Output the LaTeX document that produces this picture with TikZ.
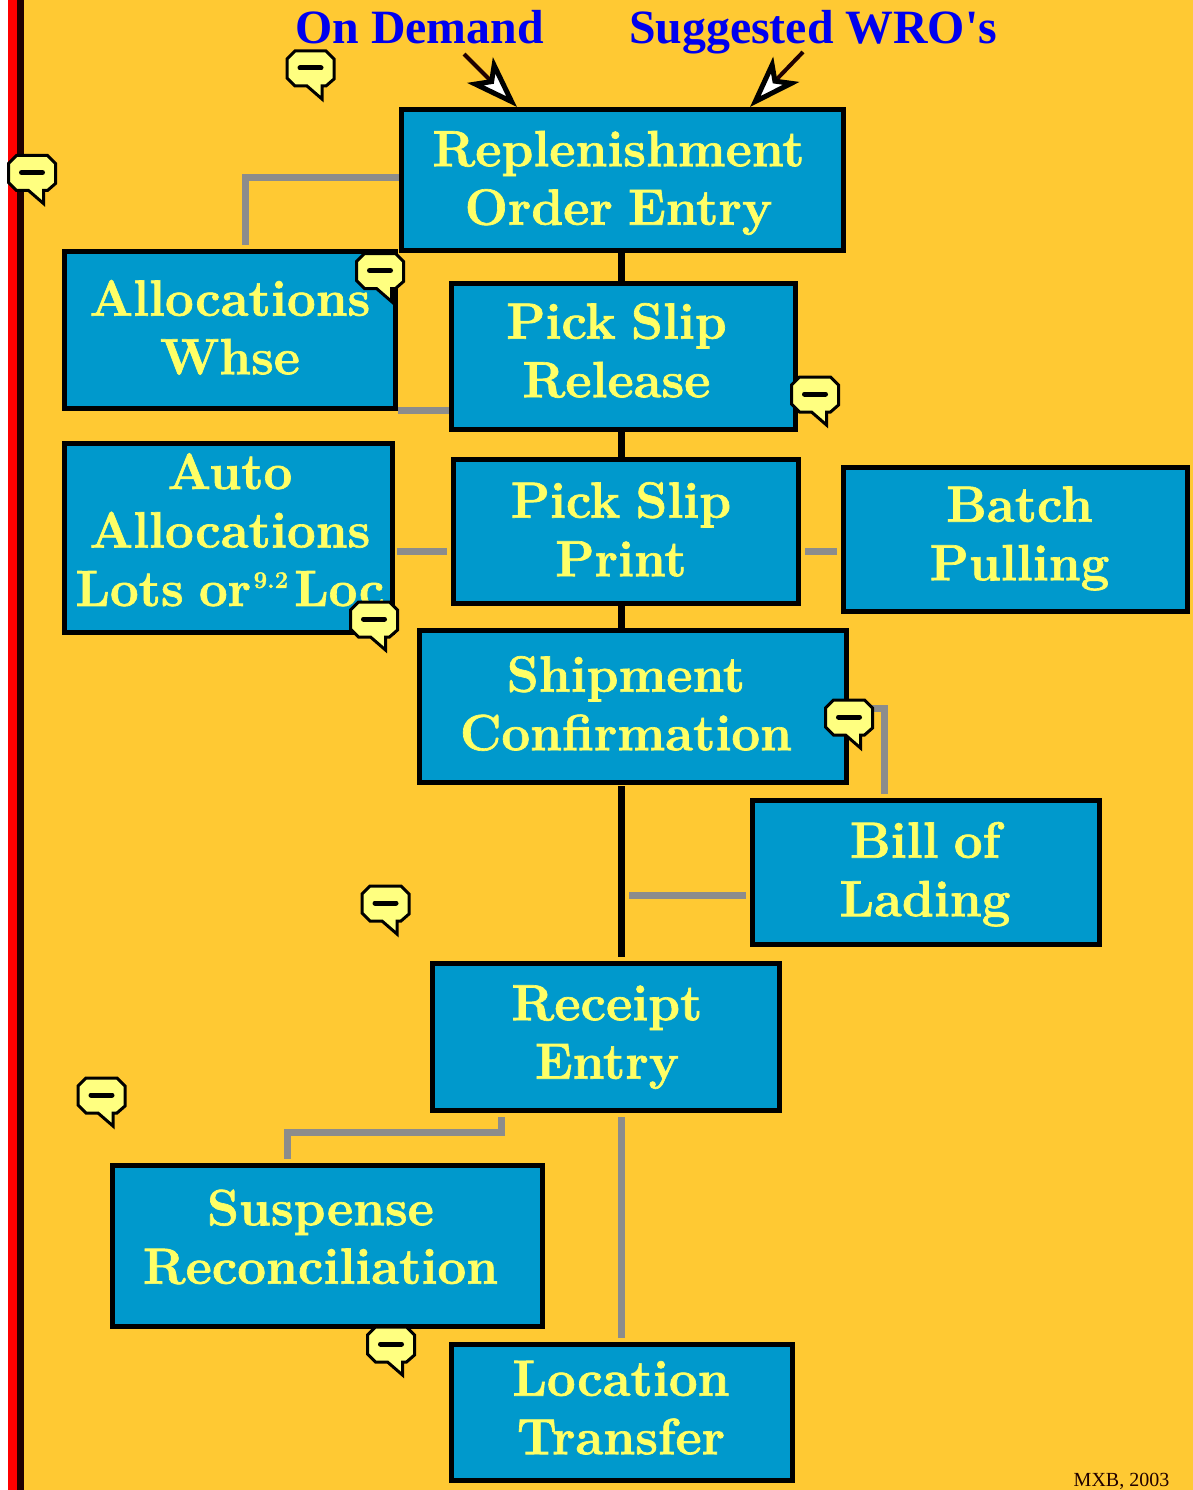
\documentclass[tikz,border=0pt]{standalone}
\usepackage{fontspec}
\usepackage{tikz}
\usetikzlibrary{arrows.meta}
\newfontfamily\headfont{Liberation Serif}
\newfontfamily\boxfont{Latin Modern Roman}[BoldFeatures={FakeBold=1.3},WordSpace=0.8]
\definecolor{pagegold}{HTML}{FFC933}
\definecolor{boxblue}{HTML}{0099CC}
\definecolor{boxtext}{HTML}{FFFF66}
\definecolor{notefill}{HTML}{FFFF80}
\definecolor{linkgrey}{HTML}{8C8C8C}
\definecolor{headblue}{HTML}{0000EE}
\definecolor{stripedark}{HTML}{200000}
\newcommand\wtext[3]{\makebox[0pt]{\hspace*{#1pt}\hspace*{#1pt}\raisebox{#2pt}[0pt][0pt]{\begin{tabular}{@{}c@{}}#3\end{tabular}}}}
\tikzset{
	wbox/.style={rectangle,draw=black,line width=5pt,fill=boxblue,text=boxtext,inner sep=0pt,
		font=\boxfont\fontsize{51}{58.5}\selectfont\bfseries},
	flow/.style={draw=black,line width=7pt},
	side/.style={draw=linkgrey,line width=7pt},
	head/.style={text=headblue,inner sep=0pt,anchor=base,font=\headfont\fontsize{47.8}{50}\selectfont\bfseries},
	entry/.style={draw=stripedark,line width=4pt,
		-{Stealth[length=52pt,width=36pt,inset=13pt,fill=white,color=black,line width=5pt]}},
	note/.pic={
		\draw[line width=3pt,fill=notefill,line join=miter]
			(9,1) -- (40,1) -- (48,9) -- (48,29) -- (40,36) -- (36,36) -- (36,49) -- (21,36)
			-- (9,36) -- (1,28) -- (1,9) -- cycle;
		\draw[line width=5pt,line cap=round] (14,18) -- (35,18);
	}
}
\begin{document}
\begin{tikzpicture}[x=1pt,y=-1pt]
\useasboundingbox (0,0) rectangle (1193,1490);
\fill[white] (0,0) rectangle (8,1490);
\fill[pagegold] (8,0) rectangle (1193,1490);
\fill[red] (8,0) rectangle (17,1490);
\fill[stripedark] (17,0) rectangle (24,1490);

\node [wbox,minimum width=442pt,minimum height=141pt] (replen) at (622.5,180) {\wtext{-4}{-10}{Replenishment\\Order Entry}};
\node [wbox,minimum width=331pt,minimum height=157pt] (alloc) at (230,330) {\wtext{0}{-9.5}{Allocations\\Whse}};
\node [wbox,minimum width=344pt,minimum height=146pt] (release) at (623.5,356.5) {\wtext{-7}{-6}{Pick Slip\\Release}};
\node [wbox,minimum width=328pt,minimum height=189pt] (auto) at (228.5,538) {\wtext{1.5}{-4}{Auto\\Allocations\\Lots or\kern2.5pt\raisebox{18pt}{\fontsize{24}{24}\selectfont 9.2}\kern6pt Loc}};
\node [wbox,minimum width=345pt,minimum height=144pt] (print) at (626,531.5) {\wtext{-5}{-10}{Pick Slip\\Print}};
\node [wbox,minimum width=344pt,minimum height=144pt] (batch) at (1015.5,539.5) {\wtext{4}{-6}{Batch\\Pulling}};
\node [wbox,minimum width=427pt,minimum height=152pt] (ship) at (633,706.5) {\wtext{-7}{-9}{Shipment\\Confirmation}};
\node [wbox,minimum width=347pt,minimum height=144pt] (lading) at (926,872.5) {\wtext{-1}{-9}{Bill of\\Lading}};
\node [wbox,minimum width=347pt,minimum height=147pt] (receipt) at (606,1037) {\wtext{1}{-7}{Receipt\\Entry}};
\node [wbox,minimum width=430pt,minimum height=161pt] (suspense) at (327.5,1246) {\wtext{-7}{-3}{Suspense\\Reconciliation}};
\node [wbox,minimum width=341pt,minimum height=136pt] (transfer) at (622,1412.5) {\wtext{-1}{-7}{Location\\Transfer}};

\node [head] (demand) at (419.5,44) {On Demand};
\node [head] (wro) at (813,44) {Suggested WRO's};
\node [text=stripedark,inner sep=0pt,anchor=base,font=\headfont\fontsize{20}{22}\selectfont] (mark) at (1121.5,1486) {MXB, 2003};

\coordinate (demandtail) at (464,54);
\coordinate (demandtip) at (517,107);
\coordinate (wrotail) at (803,52);
\coordinate (wrotip) at (750,107);
\coordinate (shipfoot) at (621,957);
\coordinate (ladingjoin) at (629,895);

\draw [flow] (621,250) -- (621,284);
\draw [flow] (621,430) -- (621,459);
\draw [flow] (621,604) -- (621,630);
\draw [flow] (621,786) -- (shipfoot);

\draw [side] (replen.west |- 0,178) -| (245,245);
\draw [side] (alloc.east |- 0,410) -- (release.west |- 0,410);
\draw [side] (397,551) -- (447,551);
\draw [side] (805,551) -- (837,551);
\draw [side] (ship.east |- 0,708) -| (884,794);
\draw [side] (ladingjoin) -- (746,895);
\draw [side] (501,1117) |- (287,1132) -- (287,1159);
\draw [side] (621,1117) -- (621,1338);

\draw [entry] (demandtail) -- (demandtip);
\draw [entry] (wrotail) -- (wrotip);

\pic at (286,50) {note};
\pic at (7.5,154.5) {note};
\pic at (355.5,252.5) {note};
\pic at (790.5,376) {note};
\pic at (349.5,601) {note};
\pic at (824.5,699) {note};
\pic at (361,885) {note};
\pic at (77,1077) {note};
\pic at (366.5,1326) {note};
\end{tikzpicture}
\end{document}
